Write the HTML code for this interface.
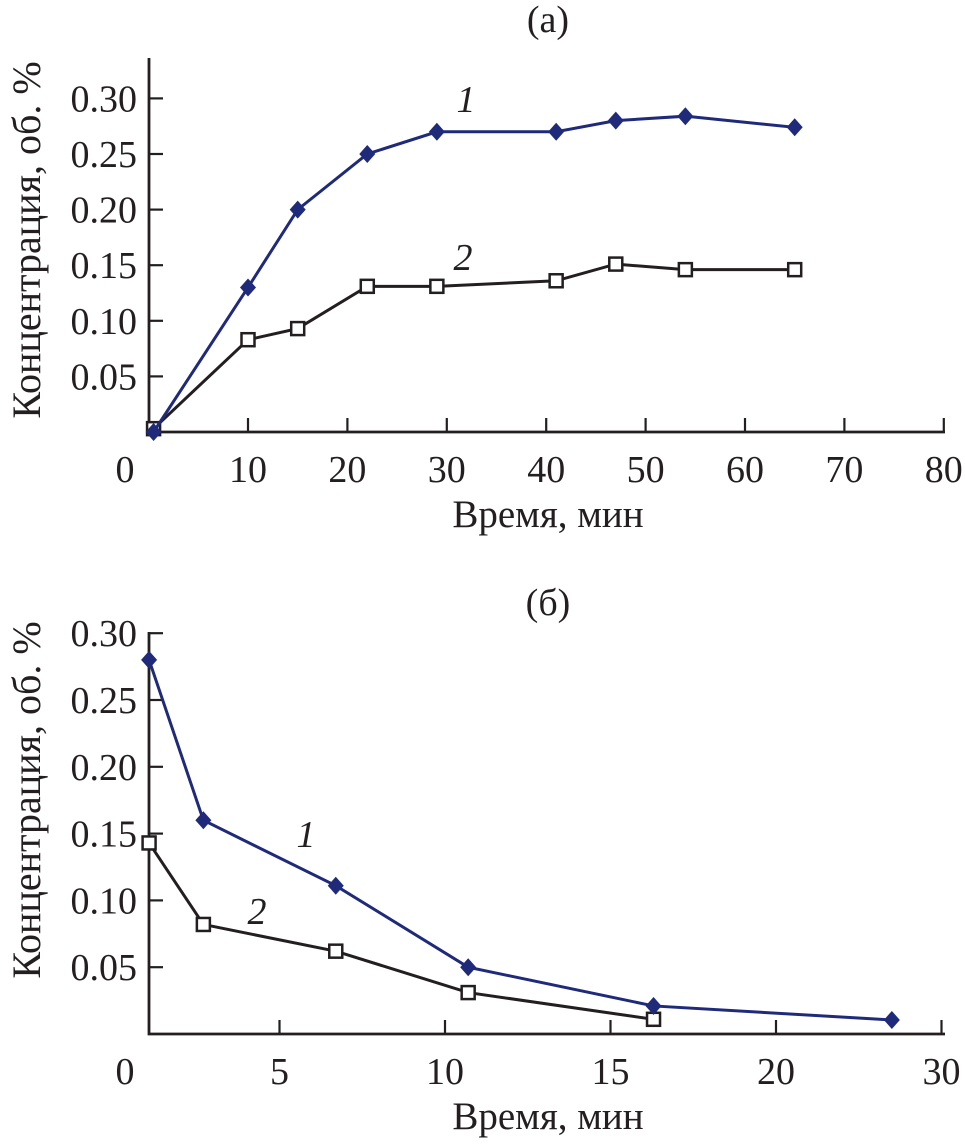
<!DOCTYPE html>
<html><head><meta charset="utf-8"><style>
body{margin:0;background:#fff}
svg text{font-family:"Liberation Serif",serif;fill:#231f20}
</style></head><body>
<svg width="965" height="1143" viewBox="0 0 965 1143" xmlns="http://www.w3.org/2000/svg">
<g id="ga"></g>
<g id="gb"></g>
</svg>
<script>
const aX1=[0.5,10,15,22,29,41,47,54,65];
const aY1=[0,0.13,0.20,0.25,0.27,0.27,0.28,0.284,0.274];
const aX2=[0.5,10,15,22,29,41,47,54,65];
const aY2=[0.003,0.083,0.093,0.131,0.131,0.136,0.151,0.146,0.146];
const aXTicks=[0,10,20,30,40,50,60,70,80];
const aXLabels=["0","10","20","30","40","50","60","70","80"];
const yTicks=[0.05,0.10,0.15,0.20,0.25,0.30];
const yLabels=["0.05","0.10","0.15","0.20","0.25","0.30"];
const bX1=[1.06,2.7,6.7,10.7,16.3,23.5];
const bY1=[0.28,0.16,0.111,0.05,0.021,0.0105];
const bX2=[1.06,2.7,6.7,10.7,16.3];
const bY2=[0.143,0.082,0.062,0.031,0.011];
const bXTicks=[0,5,10,15,20,25];
const bXLabels=["0","5","10","15","20","30"];
const NS="http://www.w3.org/2000/svg";
function mk(p,t,a){const e=document.createElementNS(NS,t);for(const k in a)e.setAttribute(k,a[k]);p.appendChild(e);return e;}
function chart(g,o){
  const sx=v=>o.x0+v*o.kx, sy=v=>o.y0-v*o.ky;
  const ax=mk(g,'path',{d:`M${o.left} ${o.top}V${o.y0}H945`,fill:'none',stroke:'#231f20','stroke-width':2.8});
  
  
  o.xt.forEach((v,i)=>{
    const x=sx(v);
    if(x>o.left+2){const t=mk(g,'line',{x1:x,x2:x,y1:o.y0,y2:o.y0-14,stroke:'#231f20','stroke-width':2.2});
    
    }
    const lx=i===0?125:x;
    const l=mk(g,'text',{x:lx,y:o.y0+50,'font-size':38,'text-anchor':'middle'});l.textContent=o.xl[i];
    
    
  });
  yTicks.forEach((v,i)=>{
    const y=sy(v);
    const t=mk(g,'line',{x1:o.left,x2:o.left+14,y1:y,y2:y,stroke:'#231f20','stroke-width':2.2});
    
    
    const l=mk(g,'text',{x:o.left-12,y:y+13,'font-size':38,'text-anchor':'end'});l.textContent=yLabels[i];
    
    
  });
  const ser=(X,Y,col,sq,name)=>{
    const pl=mk(g,'polyline',{points:X.map((v,i)=>sx(v)+','+sy(Y[i])).join(' '),fill:'none',stroke:col,'stroke-width':3});
    
    
    X.forEach((v,i)=>{const x=sx(v),y=sy(Y[i]);let m;
      if(sq)m=mk(g,'rect',{x:x-6.5,y:y-6.5,width:13,height:13,fill:'#fff',stroke:'#231f20','stroke-width':2.5});
      else m=mk(g,'path',{d:`M${x} ${y-9}L${x+8} ${y}L${x} ${y+9}L${x-8} ${y}Z`,fill:col});
      
      });
  };
  ser(o.x2,o.y2,'#231f20',true,'series-2');
  ser(o.x1,o.y1,'#1f2a7a',false,'series-1');
  const tt=mk(g,'text',{x:548,y:o.titleY,'font-size':38,'text-anchor':'middle'});tt.textContent=o.title;
  
  
  const xt=mk(g,'text',{x:548,y:o.y0+95,'font-size':39,'text-anchor':'middle'});xt.textContent='Время, мин';
  
  
  const yt=mk(g,'text',{x:0,y:0,'font-size':40,'text-anchor':'middle',transform:`translate(40 ${o.yc}) rotate(-90)`});yt.textContent='Концентрация, об. %';
  
  
  o.lab.forEach(L=>{const t=mk(g,'text',{x:L[0],y:L[1],'font-size':38,'font-style':'italic','text-anchor':'middle'});t.textContent=L[2];
    
    });
}
chart(document.getElementById('ga'),{x0:148.6,kx:9.94,y0:432,ky:1112,left:149,top:58,xt:aXTicks,xl:aXLabels,x1:aX1,y1:aY1,x2:aX2,y2:aY2,title:'(a)',titleY:32,yc:240,lab:[[466,112,'1'],[463,270,'2']]});
chart(document.getElementById('gb'),{x0:114,kx:33.1,y0:1034,ky:1336,left:149,top:632,xt:bXTicks,xl:bXLabels,x1:bX1,y1:bY1,x2:bX2,y2:bY2,title:'(б)',titleY:615,yc:800,lab:[[306,847,'1'],[257,924,'2']]});
</script>
</body></html>
